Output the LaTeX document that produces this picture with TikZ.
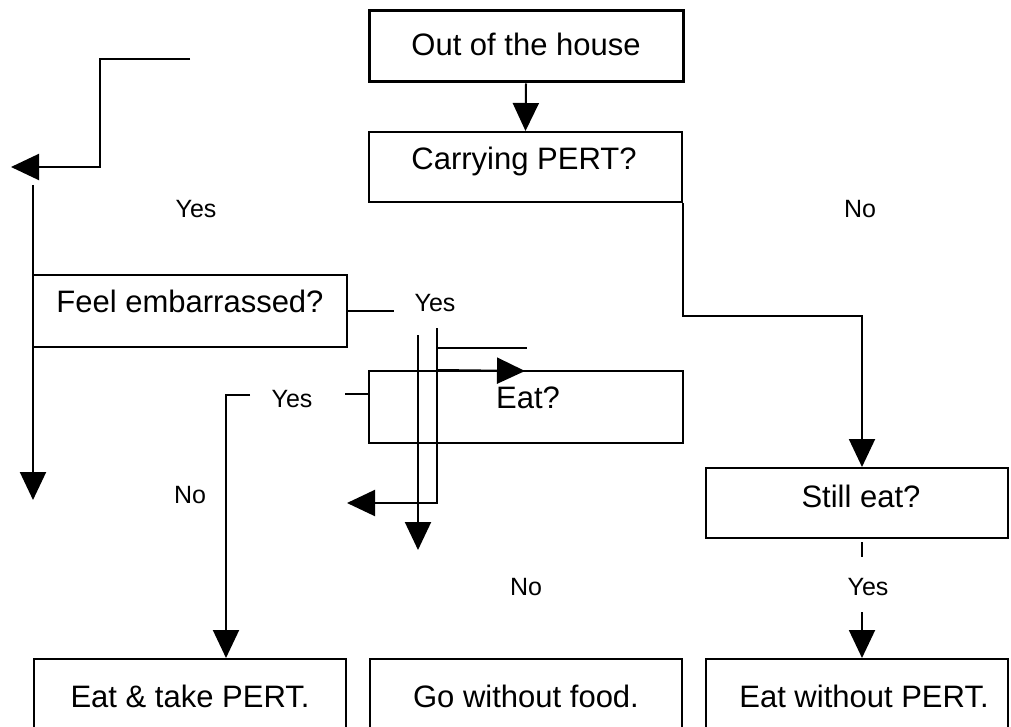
\documentclass[tikz,border=0pt]{standalone}
\usepackage{fontspec}
\setmainfont{Liberation Sans}
\usetikzlibrary{arrows.meta,calc}
\begin{document}
\begin{tikzpicture}[x=1pt,y=-1pt,line width=2pt,
  box/.style={draw,rectangle,inner sep=0pt},
  bigtxt/.style={inner sep=0pt,anchor=base,font=\fontsize{31}{37}\selectfont},
  lbl/.style={inner sep=0pt,anchor=base,font=\fontsize{25}{30}\selectfont},
  arr/.style={-{Triangle[length=28pt,width=26pt]}}]
\useasboundingbox (0,0) rectangle (1011,727);
\clip (0,0) rectangle (1011,727);

% boxes
\node[box,line width=3pt,minimum width=314pt,minimum height=71pt] (out) at (526,46.5) {};
\node[box,minimum width=313pt,minimum height=70pt] (carry) at (525.5,167) {};
\node[box,minimum width=314pt,minimum height=72pt] (feel) at (190,311) {};
\node[box,minimum width=314pt,minimum height=72pt] (eat) at (526,407) {};
\node[box,minimum width=302pt,minimum height=70pt] (still) at (857,503) {};
\node[box,minimum width=312pt,minimum height=101pt] (b1) at (190,709.5) {};
\node[box,minimum width=312pt,minimum height=101pt] (b2) at (526,709.5) {};
\node[box,minimum width=302pt,minimum height=101pt] (b3) at (857,709.5) {};

% box texts
\node[bigtxt] (t-out) at (526,56) {Out of the house};
\node[bigtxt] (t-carry) at (524,170) {Carrying PERT?};
\node[bigtxt] (t-feel) at (190,312) {Feel embarrassed?};
\node[bigtxt] (t-eat) at (528,408) {Eat?};
\node[bigtxt] (t-still) at (861,507) {Still eat?};
\node[bigtxt] (t-b1) at (190,707) {Eat \& take PERT.};
\node[bigtxt] (t-b2) at (526,707) {Go without food.};
\node[bigtxt] (t-b3) at (864,707) {Eat without PERT.};

% branch labels
\node[lbl] (y1) at (196,218) {Yes};
\node[lbl] (n1) at (860,218) {No};
\node[lbl] (y2) at (435,311) {Yes};
\node[lbl] (y3) at (292,407) {Yes};
\node[lbl] (n2) at (190,503) {No};
\node[lbl] (n3) at (526,595) {No};
\node[lbl] (y4) at (868,595) {Yes};

% connector end points
\coordinate (c1) at (190,59);
\coordinate (c1e) at (11,167);
\coordinate (c2) at (33,185);
\coordinate (c2e) at (33,500);
\coordinate (c3) at (418,335);
\coordinate (c3e) at (418,550);
\coordinate (c4) at (437,328);
\coordinate (c4e) at (347,503);
\coordinate (c5) at (250,395);
\coordinate (c5b) at (226,395);
\coordinate (c6) at (862,316);
\coordinate (c7) at (862,542);
\coordinate (c7e) at (862,557);
\coordinate (c8) at (862,612);

% connectors
\draw[arr] (out.south) -- (carry.north);
\draw[arr] (c1) -- ++(-90,0) |- (c1e);
\draw[arr] (c2) -- (c2e);
\draw (feel.east) -- ++(46,0);
\draw[arr] (c3) -- (c3e);
\draw[arr] (c4) |- (c4e);
\draw (c4 |- 0,348) -- (527,348);
\draw[arr] (c4 |- eat.north) -- (525,371);
\draw ($(eat.north west)+(0,24)$) -- ++(-23,0);
\draw[arr] (c5) -- (c5b) -- (c5b |- b1.north);
\draw[arr] (carry.south east) |- (c6) -- (c6 |- still.north);
\draw (c7) -- (c7e);
\draw[arr] (c8) -- (c8 |- b3.north);
\end{tikzpicture}
\end{document}
